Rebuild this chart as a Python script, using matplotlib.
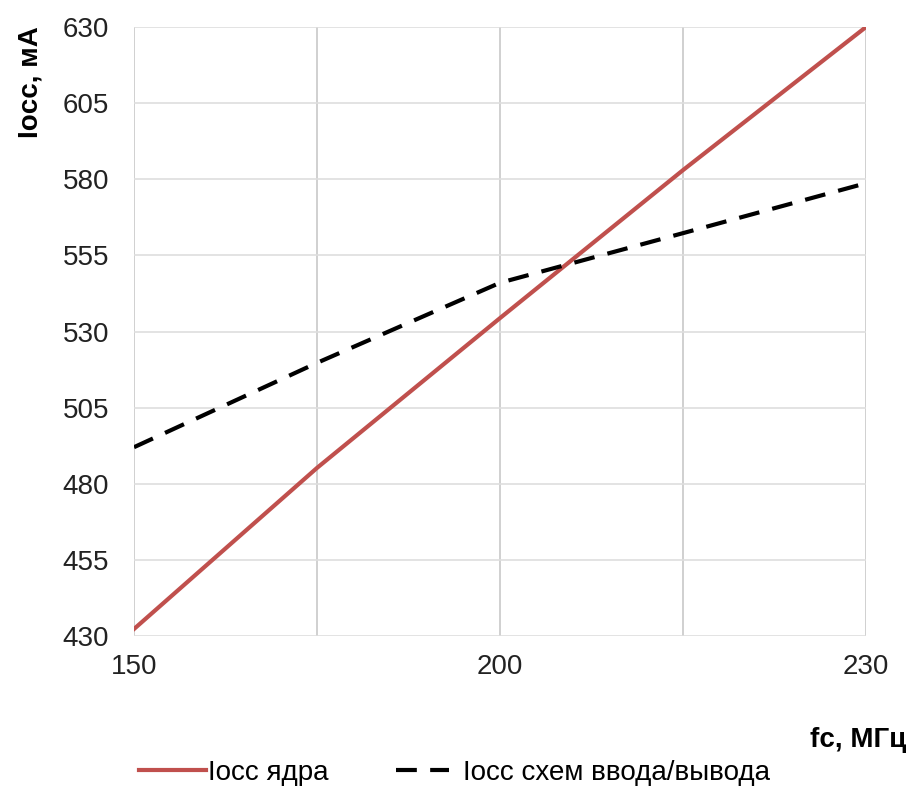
import numpy as np
import matplotlib
matplotlib.use("Agg")
import matplotlib.pyplot as plt
from matplotlib.lines import Line2D

# x categories (labels shown on every other point)
x_labels = ['150', '', '200', '', '230']
i_core = [432.3, 485.2, 534.4, 583.0, 630.0]
i_io = [492.0, 519.7, 546.0, 562.3, 578.7]
y_ticks = [430, 455, 480, 505, 530, 555, 580, 605, 630]

plt.rcParams['font.family'] = ['Liberation Sans', 'DejaVu Sans']
plt.rcParams['font.size'] = 20

fig = plt.figure(figsize=(9.09, 7.91), dpi=100)
ax = fig.add_axes([134/909, 1-636/791, (866-134)/909, (636-27)/791])

xs = np.arange(len(x_labels))
dash = (0, (5.0, 3.2))
l1, = ax.plot(xs, i_core, color='#C0504D', lw=3, label='Iocc ядра')
l2, = ax.plot(xs, i_io, color='black', lw=3, ls=dash, label='Iocc схем ввода/вывода')

ax.set_xlim(0, 4)
ax.set_ylim(430, 630)
ax.set_xticks(xs)
ax.set_xticklabels(x_labels)
ax.set_yticks(y_ticks)
ax.xaxis.grid(True, color='#c8c8c8', lw=1.2)
ax.yaxis.grid(True, color='#dedede', lw=1.2)
ax.set_axisbelow(True)
for s in ax.spines.values():
    s.set_visible(False)
ax.tick_params(length=0, colors='#222222')
ax.tick_params(axis='x', pad=13)
ax.tick_params(axis='y', pad=18)

fig.text(31/909, 1-82/791, 'Iocc, мА', rotation=90, fontweight='bold',
         ha='center', va='center', fontsize=20)
fig.text(906/909, 1-740/791, 'fc, МГц', fontweight='bold',
         ha='right', va='center', fontsize=20)

# two legend entries placed separately
leg1 = fig.legend([l1], ['Iocc ядра'], loc='center left',
                  bbox_to_anchor=(139/909, 1-773/791), frameon=False,
                  fontsize=20, handlelength=2.4, handletextpad=0.1,
                  borderpad=0, borderaxespad=0)
h2 = Line2D([], [], color='black', lw=3, ls=dash)
leg2 = fig.legend([h2], ['Iocc схем ввода/вывода'], loc='center left',
                  bbox_to_anchor=(396/909, 1-773/791), frameon=False,
                  fontsize=20, handlelength=1.9, handletextpad=0.5,
                  borderpad=0, borderaxespad=0)

fig.savefig('out.png', dpi=100)
